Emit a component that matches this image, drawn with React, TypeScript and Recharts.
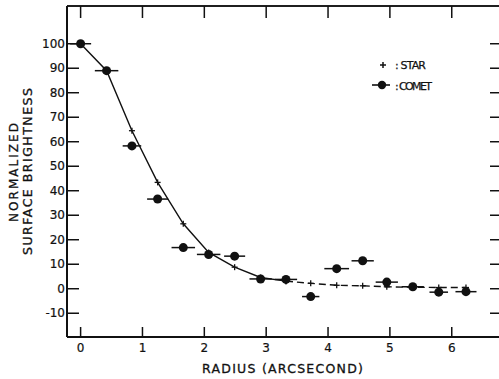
import React from 'react';
import { ComposedChart, Line, Scatter, XAxis, YAxis, ErrorBar, Legend, ReferenceLine } from 'recharts';

const radii = [0, 0.42, 0.83, 1.245, 1.66, 2.07, 2.49, 2.91, 3.32, 3.72, 4.14, 4.56, 4.95, 5.37, 5.79, 6.23];
const cometValues = [100, 89, 58.3, 36.6, 16.8, 14, 13.3, 4, 3.8, -3.2, 8.2, 11.4, 2.7, 0.8, -1.4, -1.2];
const cometRadiusErr = [0.17, 0.19, 0.15, 0.17, 0.19, 0.19, 0.17, 0.18, 0.18, 0.14, 0.2, 0.18, 0.18, 0.18, 0.15, 0.17];
const starValues = [100, 89, 64.5, 43.4, 26.5, 14.8, 8.8, 4.6, 3.1, 2.2, 1.4, 1.2, 0.8, 0.6, 0.5, 0.5];
const dashFromIndex = 8;
const xTicks = [0, 1, 2, 3, 4, 5, 6];
const yTicks = [-10, 0, 10, 20, 30, 40, 50, 60, 70, 80, 90, 100];
const xDomain: [number, number] = [-0.22, 6.78];
const yDomain: [number, number] = [-19.7, 115.4];

const cometData = radii.map((x, i) => ({ x, y: cometValues[i], xe: cometRadiusErr[i] }));
const starData = radii.map((x, i) => ({ x, y: starValues[i] }));
const starSolid = starData.slice(0, dashFromIndex + 1);
const starDashed = starData.slice(dashFromIndex);

const FONT = '"DejaVu Sans", sans-serif';
const INK = '#111';

const PlusDot = (props: any) => {
  const { cx, cy } = props;
  if (cx == null || cy == null) return null;
  return (
    <g>
      <line x1={cx - 3} x2={cx + 3} y1={cy} y2={cy} stroke={INK} strokeWidth={1.3} />
      <line x1={cx} x2={cx} y1={cy - 3} y2={cy + 3} stroke={INK} strokeWidth={1.3} />
    </g>
  );
};

const XTitle = () => (
  <text x={202} y={373} fontFamily={FONT} fontSize={12.5} fill={INK} stroke={INK} strokeWidth={0.3} textLength={161} lengthAdjust="spacing">
    RADIUS (ARCSECOND)
  </text>
);

const YTitle = () => (
  <g>
    <text transform="translate(18.3,172.5) rotate(-90)" textAnchor="middle" fontFamily={FONT} fontSize={12} fill={INK} stroke={INK} strokeWidth={0.3} textLength={99} lengthAdjust="spacing">
      NORMALIZED
    </text>
    <text transform="translate(31.7,171.5) rotate(-90)" textAnchor="middle" fontFamily={FONT} fontSize={12.5} fill={INK} stroke={INK} strokeWidth={0.3} textLength={167} lengthAdjust="spacing">
      SURFACE BRIGHTNESS
    </text>
  </g>
);

const LegendBox = () => (
  <svg width={80} height={42} style={{ display: 'block' }}>
    <line x1={15} x2={21} y1={10} y2={10} stroke={INK} strokeWidth={1.5} />
    <line x1={18} x2={18} y1={7} y2={13} stroke={INK} strokeWidth={1.5} />
    <text x={30} y={13.8} fontFamily={FONT} fontSize={11} fill={INK} stroke={INK} strokeWidth={0.25} textLength={31} lengthAdjust="spacing">: STAR</text>
    <line x1={7} x2={25} y1={30} y2={30} stroke={INK} strokeWidth={1.6} />
    <circle cx={17} cy={30} r={4.2} fill={INK} />
    <text x={30} y={34.5} fontFamily={FONT} fontSize={11} fill={INK} stroke={INK} strokeWidth={0.25} textLength={37} lengthAdjust="spacing">: COMET</text>
  </svg>
);

export default function App() {
  const tickLine = { stroke: INK, strokeWidth: 1.5 };
  const tickStyle = { fill: INK, fontSize: 12, fontFamily: FONT, stroke: INK, strokeWidth: 0.2 };
  return (
    <div style={{ position: 'absolute', left: 0, top: 0, width: 499, height: 379, overflow: 'hidden', background: '#fff' }}>
      <ComposedChart width={499} height={379} margin={{ top: 0, right: -2, bottom: 0, left: 0 }}>
        <XAxis
          xAxisId="b"
          type="number"
          dataKey="x"
          domain={xDomain}
          allowDataOverflow
          ticks={xTicks}
          interval={0}
          height={42}
          tickSize={-10}
          tickMargin={16}
          axisLine={{ stroke: INK, strokeWidth: 2 }}
          tickLine={tickLine}
          tick={tickStyle}
          label={<XTitle />}
        />
        <XAxis
          xAxisId="t"
          orientation="top"
          type="number"
          dataKey="x"
          domain={xDomain}
          allowDataOverflow
          ticks={xTicks}
          interval={0}
          height={6}
          tickSize={-12}
          tickFormatter={() => ''}
          axisLine={{ stroke: INK, strokeWidth: 1.5 }}
          tickLine={tickLine}
        />
        <YAxis
          yAxisId="l"
          type="number"
          domain={yDomain}
          allowDataOverflow
          ticks={yTicks}
          interval={0}
          width={67}
          tickSize={-12}
          tickMargin={14}
          axisLine={{ stroke: INK, strokeWidth: 2 }}
          tickLine={tickLine}
          tick={tickStyle}
          label={<YTitle />}
        />
        <YAxis
          yAxisId="r"
          orientation="right"
          type="number"
          domain={yDomain}
          allowDataOverflow
          ticks={yTicks}
          interval={0}
          width={1}
          tickSize={-10}
          tickFormatter={() => ''}
          axisLine={false}
          tickLine={tickLine}
        />
        <ReferenceLine xAxisId="b" yAxisId="l" y={yDomain[1]} stroke={INK} strokeWidth={1.5} />
        <Legend
          verticalAlign="middle"
          align="center"
          layout="horizontal"
          wrapperStyle={{ position: 'absolute', left: 365, top: 55, width: 80, height: 42 }}
          content={() => <LegendBox />}
        />
        <Line
          xAxisId="b"
          yAxisId="l"
          data={starSolid}
          dataKey="y"
          type="linear"
          stroke={INK}
          strokeWidth={1.4}
          dot={<PlusDot />}
          activeDot={false}
          isAnimationActive={false}
          legendType="none"
        />
        <Line
          xAxisId="b"
          yAxisId="l"
          data={starDashed}
          dataKey="y"
          type="linear"
          stroke={INK}
          strokeWidth={1.4}
          strokeDasharray="7 4"
          dot={<PlusDot />}
          activeDot={false}
          isAnimationActive={false}
          legendType="none"
        />
        <Scatter
          xAxisId="b"
          yAxisId="l"
          data={cometData}
          dataKey="y"
          fill={INK}
          isAnimationActive={false}
          legendType="none"
        >
          <ErrorBar dataKey="xe" direction="x" width={0} stroke={INK} strokeWidth={1.5} />
        </Scatter>
      </ComposedChart>
    </div>
  );
}
